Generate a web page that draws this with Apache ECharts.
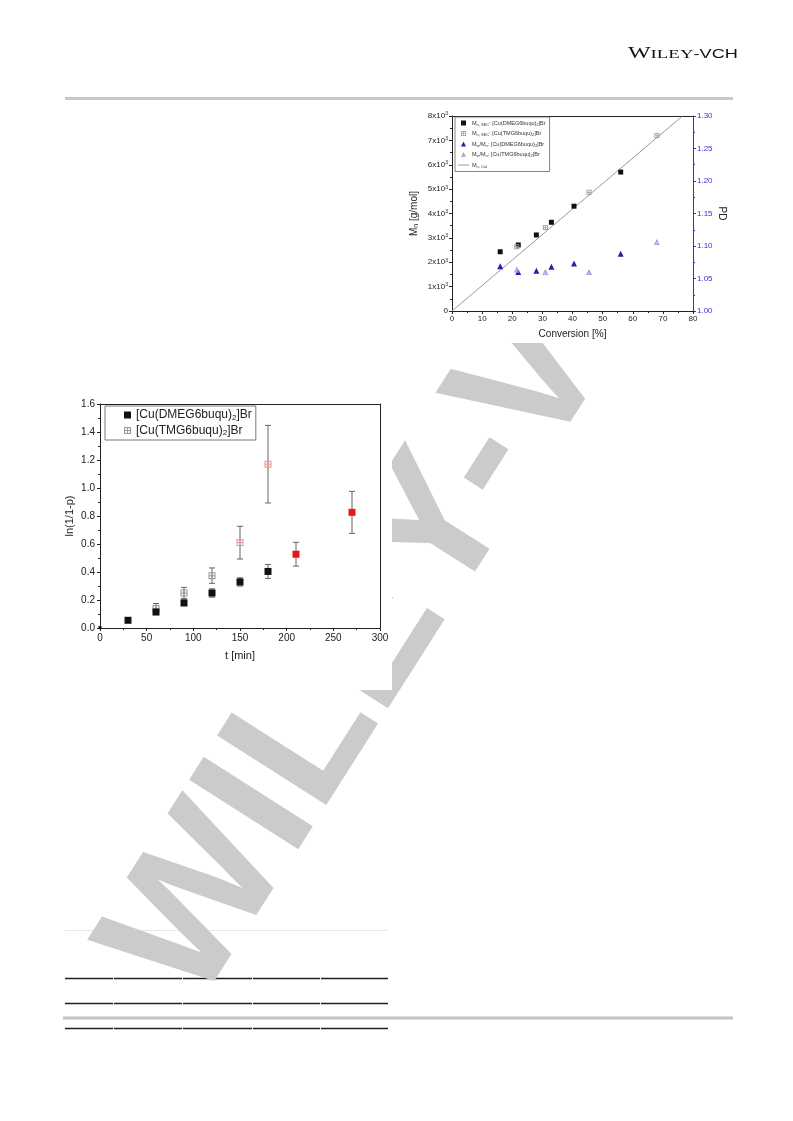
<!DOCTYPE html>
<html><head><meta charset="utf-8">
<script src="https://cdn.jsdelivr.net/npm/echarts@6/dist/echarts.min.js"></script>
<style>html,body{margin:0;padding:0;background:#fff}#c{width:793px;height:1121px}</style>
</head><body><div id="c"></div>
<script>
// ---------- top-right chart: Mn / PD vs conversion ----------
const convDMEG = [16, 22, 28, 33, 40.5, 56];
const mnDMEG = [2430, 2710, 3120, 3640, 4300, 5700];
const convTMG = [21.5, 31, 45.5, 68];
const mnTMG = [2640, 3430, 4870, 7200];
const pdConvDMEG = [16, 22, 28, 33, 40.5, 56];
const pdDMEG = [1.069, 1.060, 1.062, 1.068, 1.073, 1.088];
const pdConvTMG = [21.5, 31, 45.5, 68];
const pdTMG = [1.064, 1.060, 1.060, 1.106];
const mnCalX = [0, 76.5];
const mnCalY = [0, 8000];

// ---------- bottom-left chart: ln(1/1-p) vs t ----------
const tDMEG = [0, 30, 60, 90, 120, 150, 180, 210, 270];
const lnDMEG = [0.003, 0.055, 0.114, 0.179, 0.25, 0.329, 0.404, 0.527, 0.826];
const errDMEG = [0, 0.008, 0.015, 0.02, 0.03, 0.03, 0.05, 0.085, 0.15];
const tTMG = [60, 90, 120, 150, 180];
const lnTMG = [0.14, 0.25, 0.374, 0.61, 1.17];
const errTMG = [0.035, 0.04, 0.055, 0.117, 0.277];

const FONT = 'Liberation Sans';
const chart = echarts.init(document.getElementById('c'), null, {renderer: 'canvas'});

const boxCross = 'path://M0,0H10V10H0Z M1.6,1.6V4.3H4.3V1.6Z M5.7,1.6V4.3H8.4V1.6Z M1.6,5.7V8.4H4.3V5.7Z M5.7,5.7V8.4H8.4V5.7Z';
const triCross = 'path://M5,0L10,10L0,10Z M5,3.2L2.3,8.7L7.7,8.7Z M4.45,3.2H5.55V10H4.45Z M3.2,6.4H6.8V7.4H3.2Z';
// legend icons padded to a 22x10 box so that all entries share one width
const PADL = 'M0,5H0.01V5.01H0Z ', PADR = ' M21.99,5H22V5.01H21.99Z';
const icSq = 'path://' + PADL + 'M6,0H16V10H6Z' + PADR;
const icBox = 'path://' + PADL + 'M6,0H16V10H6Z M7.6,1.6V4.3H10.3V1.6Z M11.7,1.6V4.3H14.4V1.6Z M7.6,5.7V8.4H10.3V5.7Z M11.7,5.7V8.4H14.4V5.7Z' + PADR;
const icTri = 'path://' + PADL + 'M11,0L16,10L6,10Z' + PADR;
const icTriX = 'path://' + PADL + 'M11,0L16,10L6,10Z M11,3.2L8.3,8.7L13.7,8.7Z M10.45,3.2H11.55V10H10.45Z M9.2,6.4H12.8V7.4H9.2Z' + PADR;
const icLine = 'path://M0,0H0.01V0.01H0Z M0,4.2H22V5.8H0Z M21.99,9.99H22V10H21.99Z';

function errRender(params, api) {
  const x = api.value(0), y = api.value(1), e = api.value(2);
  if (!e) return null;
  const top = api.coord([x, y + e]), bot = api.coord([x, y - e]);
  const hw = 3;
  const style = {stroke: '#555', lineWidth: 0.9};
  return {type: 'group', children: [
    {type: 'line', shape: {x1: top[0], y1: top[1], x2: bot[0], y2: bot[1]}, style},
    {type: 'line', shape: {x1: top[0] - hw, y1: top[1], x2: top[0] + hw, y2: top[1]}, style},
    {type: 'line', shape: {x1: bot[0] - hw, y1: bot[1], x2: bot[0] + hw, y2: bot[1]}, style}
  ]};
}

const supFmt = v => v === 0 ? '{a|0}' : '{a|' + (v / 1000) + 'x10}{s|3}';

// table line segments
function segLine(y, w, color) {
  const cuts = [65, 113, 182, 252, 320, 388];
  const out = [];
  for (let i = 0; i < cuts.length - 1; i++) {
    out.push({type: 'line', z: 0, shape: {x1: cuts[i] + (i ? 1 : 0), y1: y, x2: cuts[i + 1], y2: y}, style: {stroke: color, lineWidth: w}});
  }
  return out;
}

const graphics = [
  // bottom table lines
  {type: 'line', z: 0, shape: {x1: 65, y1: 930.5, x2: 388, y2: 930.5}, style: {stroke: '#e6e6e6', lineWidth: 1}},
  ...segLine(978.5, 1.6, '#222'),
  ...segLine(1003.5, 1.6, '#222'),
  {type: 'rect', z: 0, shape: {x: 63, y: 1016.5, width: 670, height: 3}, style: {fill: '#c4c4c4'}},
  ...segLine(1028.5, 1.6, '#222'),
  // watermark
  {type: 'text', z: 1, x: 433, y: 541, rotation: 57.5 * Math.PI / 180, style: {
    text: 'WILEY-VCH', font: 'bold 188px "Liberation Sans"', fill: '#cbcbcb', align: 'center', verticalAlign: 'middle'}},
  // white chart image backgrounds
  {type: 'rect', z: 2, shape: {x: 405, y: 62, width: 388, height: 281}, style: {fill: '#fff'}},
  {type: 'rect', z: 2, shape: {x: 55, y: 385, width: 337, height: 305}, style: {fill: '#fff'}},
  // header logo + rule
  {type: 'text', z: 3, x: 628, y: 62, scaleX: 1.45, style: {
    text: '{w|W}{s|ILEY}{v|-VCH}', align: 'left', verticalAlign: 'bottom',
    rich: {
      w: {fontFamily: 'Liberation Serif', fontSize: 16.5, fill: '#111', verticalAlign: 'bottom'},
      s: {fontFamily: 'Liberation Serif', fontSize: 13, fill: '#111', verticalAlign: 'bottom', padding: [0, 0, 1, 0]},
      v: {fontFamily: FONT, fontSize: 12.5, fill: '#111', verticalAlign: 'bottom', padding: [0, 0, 1, 0]}
    }}},
  {type: 'rect', z: 3, shape: {x: 65, y: 97, width: 668, height: 3}, style: {fill: '#c8c8c8'}}
];

const axisCommon = {
  z: 5,
  axisLine: {lineStyle: {color: '#222', width: 1}},
  axisTick: {length: 3, lineStyle: {color: '#222'}},
  minorTick: {show: true, splitNumber: 2, length: 2, lineStyle: {color: '#222'}},
  splitLine: {show: false},
  nameLocation: 'middle'
};

const option = {
  animation: false,
  backgroundColor: '#fff',
  textStyle: {fontFamily: FONT},
  graphic: graphics,
  grid: [
    {left: 452, top: 116, width: 241, height: 195},
    {left: 100, top: 404, width: 280, height: 224}
  ],
  legend: [
    {
      z: 7, left: 455, top: 117, orient: 'vertical',
      data: [
        {name: 't1', icon: icSq}, {name: 't2', icon: icBox}, {name: 't3', icon: icTri},
        {name: 't4', icon: icTriX}, {name: 't5', icon: icLine}
      ],
      symbolKeepAspect: true,
      itemWidth: 11, itemHeight: 5, itemGap: 4, padding: [3, 4, 3, 3],
      borderColor: '#666', borderWidth: 0.8, borderRadius: 0, backgroundColor: '#fff',
      selectedMode: false,
      formatter: n => ({
        t1: '{t|M}{s|n, SEC}{t|: [Cu(DMEG6buqu)}{s|2}{t|]Br}',
        t2: '{t|M}{s|n, SEC}{t|: [Cu(TMG6buqu)}{s|2}{t|]Br}',
        t3: '{t|M}{s|w}{t|/M}{s|n}{t|: [Cu(DMEG6buqu)}{s|2}{t|]Br}',
        t4: '{t|M}{s|w}{t|/M}{s|n}{t|: [Cu(TMG6buqu)}{s|2}{t|]Br}',
        t5: '{t|M}{s|n, Cal}'
      })[n],
      textStyle: {fontFamily: FONT, color: '#333', padding: [0, 0, 0, -2], rich: {
        t: {fontSize: 5.5, fontFamily: FONT, color: '#333'},
        s: {fontSize: 4, fontFamily: FONT, color: '#333', verticalAlign: 'bottom', padding: [3, 0, 0, 0]}
      }}
    },
    {
      z: 7, left: 105, top: 406, orient: 'vertical',
      data: [{name: 'b1'}, {name: 'b2'}],
      itemWidth: 7, itemHeight: 7, itemGap: 3, padding: [3, 4, 3, 19],
      borderColor: '#555', borderWidth: 0.8, backgroundColor: '#fff',
      selectedMode: false,
      formatter: n => ({
        b1: '{t|[Cu(DMEG6buqu)}{s|2}{t|]Br}',
        b2: '{t|[Cu(TMG6buqu)}{s|2}{t|]Br}'
      })[n],
      textStyle: {fontFamily: FONT, rich: {
        t: {fontSize: 12, fontFamily: FONT, color: '#222'},
        s: {fontSize: 8, fontFamily: FONT, color: '#222', verticalAlign: 'bottom', padding: [5, 0, 0, 0]}
      }}
    }
  ],
  xAxis: [
    Object.assign({}, axisCommon, {
      gridIndex: 0, type: 'value', min: 0, max: 80, interval: 10,
      axisLabel: {fontSize: 8, margin: 4, color: '#222', fontFamily: FONT},
      name: 'Conversion [%]', nameGap: 18, nameTextStyle: {fontSize: 10, color: '#222', fontFamily: FONT}
    }),
    {z: 5, gridIndex: 0, type: 'value', position: 'top', min: 0, max: 80, interval: 10,
      axisLine: {onZero: false, lineStyle: {color: '#222'}}, axisTick: {show: false}, axisLabel: {show: false}, splitLine: {show: false}},
    Object.assign({}, axisCommon, {
      gridIndex: 1, type: 'value', min: 0, max: 300, interval: 50,
      axisLabel: {fontSize: 10, margin: 5, color: '#222', fontFamily: FONT},
      name: 't [min]', nameGap: 22, nameTextStyle: {fontSize: 11, color: '#222', fontFamily: FONT}
    }),
    {z: 5, gridIndex: 1, type: 'value', position: 'top', min: 0, max: 300, interval: 50,
      axisLine: {onZero: false, lineStyle: {color: '#222'}}, axisTick: {show: false}, axisLabel: {show: false}, splitLine: {show: false}}
  ],
  yAxis: [
    Object.assign({}, axisCommon, {
      gridIndex: 0, type: 'value', min: 0, max: 8000, interval: 1000,
      axisLabel: {margin: 4, formatter: supFmt, rich: {
        a: {fontSize: 8, color: '#222', fontFamily: FONT},
        s: {fontSize: 5, color: '#222', fontFamily: FONT, verticalAlign: 'top', padding: [0, 0, 4, 0]}
      }},
      name: '{a|M}{s|n}{a| [g/mol]}', nameGap: 32,
      nameTextStyle: {rich: {
        a: {fontSize: 10, color: '#222', fontFamily: FONT},
        s: {fontSize: 7, color: '#222', fontFamily: FONT, verticalAlign: 'bottom', padding: [4, 0, 0, 0]}
      }}
    }),
    Object.assign({}, axisCommon, {
      gridIndex: 0, type: 'value', position: 'right', min: 1.0, max: 1.3, interval: 0.05,
      axisLine: {onZero: false, lineStyle: {color: '#3333cc', width: 1}},
      axisTick: {length: 3, lineStyle: {color: '#3333cc'}},
      minorTick: {show: true, splitNumber: 2, length: 2, lineStyle: {color: '#3333cc'}},
      axisLabel: {fontSize: 8, margin: 4, color: '#3333cc', fontFamily: FONT, formatter: v => v.toFixed(2)},
      name: 'PD', nameGap: 24, nameRotate: -90, nameTextStyle: {fontSize: 10, color: '#222', fontFamily: FONT}
    }),
    Object.assign({}, axisCommon, {
      gridIndex: 1, type: 'value', min: 0, max: 1.6, interval: 0.2,
      axisLabel: {fontSize: 10, margin: 5, color: '#222', fontFamily: FONT, formatter: v => v.toFixed(1)},
      name: 'ln(1/1-p)', nameGap: 25, nameTextStyle: {fontSize: 11, color: '#222', fontFamily: FONT}
    }),
    {z: 5, gridIndex: 1, type: 'value', position: 'right', min: 0, max: 1.6, interval: 0.2,
      axisLine: {onZero: false, lineStyle: {color: '#222'}}, axisTick: {show: false}, axisLabel: {show: false}, splitLine: {show: false}}
  ],
  series: [
    {name: 't5', type: 'line', z: 5, xAxisIndex: 0, yAxisIndex: 0, showSymbol: false, symbol: 'none',
      lineStyle: {color: '#999', width: 1}, itemStyle: {color: '#999'},
      data: mnCalX.map((x, i) => [x, mnCalY[i]])},
    {name: 't1', type: 'scatter', z: 6, xAxisIndex: 0, yAxisIndex: 0, symbol: 'rect', symbolSize: 5,
      itemStyle: {color: '#111', opacity: 1}, data: convDMEG.map((x, i) => [x, mnDMEG[i]])},
    {name: 't2', type: 'scatter', z: 6, xAxisIndex: 0, yAxisIndex: 0, symbol: boxCross, symbolSize: 5,
      itemStyle: {color: '#999', opacity: 1}, data: convTMG.map((x, i) => [x, mnTMG[i]])},
    {name: 't3', type: 'scatter', z: 6, xAxisIndex: 0, yAxisIndex: 1, symbol: 'triangle', symbolSize: 6,
      itemStyle: {color: '#2222aa', opacity: 1}, data: pdConvDMEG.map((x, i) => [x, pdDMEG[i]])},
    {name: 't4', type: 'scatter', z: 6, xAxisIndex: 0, yAxisIndex: 1, symbol: triCross, symbolSize: 6,
      itemStyle: {color: '#9a9ae0', opacity: 1}, data: pdConvTMG.map((x, i) => [x, pdTMG[i]])},

    {name: 'errD', type: 'custom', z: 5, xAxisIndex: 2, yAxisIndex: 2, renderItem: errRender,
      data: tDMEG.map((t, i) => [t, lnDMEG[i], errDMEG[i]])},
    {name: 'errT', type: 'custom', z: 5, xAxisIndex: 2, yAxisIndex: 2, renderItem: errRender,
      data: tTMG.map((t, i) => [t, lnTMG[i], errTMG[i]])},
    {name: 'b2', type: 'scatter', z: 6, xAxisIndex: 2, yAxisIndex: 2, symbol: boxCross, symbolSize: 7,
      itemStyle: {color: '#999', opacity: 1},
      data: tTMG.map((t, i) => ({value: [t, lnTMG[i]], itemStyle: {color: t >= 150 ? '#e89a9a' : '#999'}}))},
    {name: 'b1', type: 'scatter', z: 6, xAxisIndex: 2, yAxisIndex: 2, symbol: 'rect', symbolSize: 7,
      itemStyle: {color: '#111', opacity: 1},
      data: tDMEG.map((t, i) => ({value: [t, lnDMEG[i]], symbolSize: t === 0 ? 3 : 7,
        itemStyle: {color: t >= 210 ? '#e8141c' : '#111'}}))}
  ]
};
chart.setOption(option);
</script>
</body></html>
